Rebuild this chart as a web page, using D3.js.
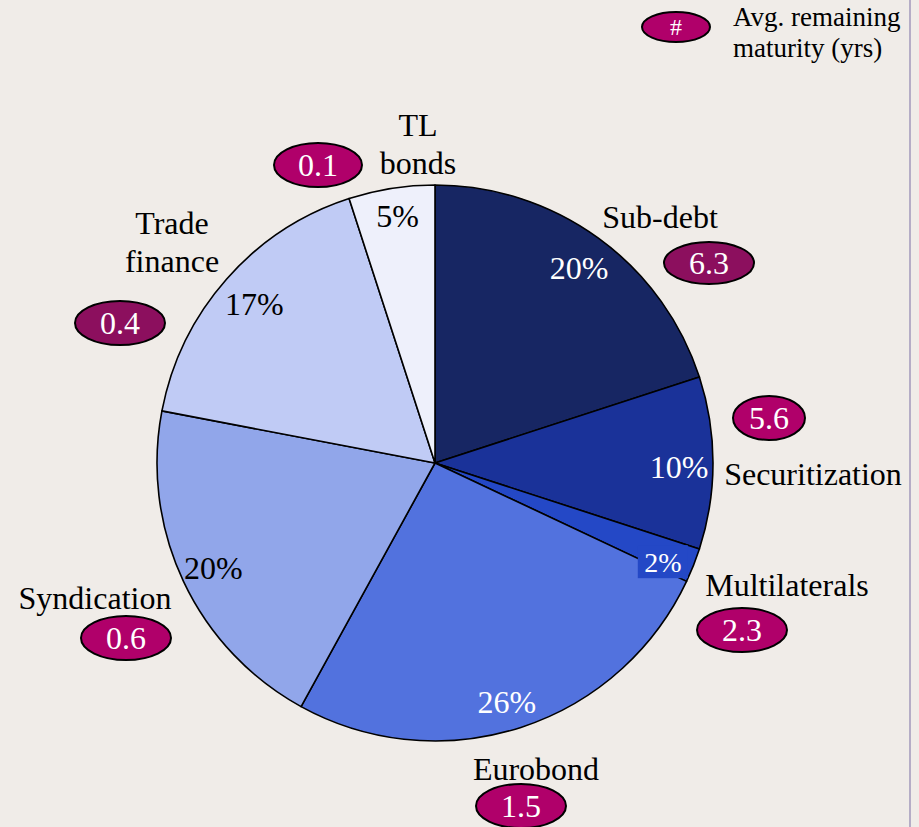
<!DOCTYPE html>
<html>
<head>
<meta charset="utf-8">
<script src="https://cdn.jsdelivr.net/npm/d3@7"></script>
<style>
  html, body { margin: 0; padding: 0; background: #f0ece8; }
  svg { display: block; }
  text { font-family: "Liberation Serif", "Times New Roman", serif; }
</style>
</head>
<body>
<svg id="chart" width="919" height="827"></svg>
<script>
// Funding mix: share of each source (%) and average remaining maturity (years)
const categories = ["Sub-debt", "Securitization", "Multilaterals", "Eurobond", "Syndication", "Trade finance", "TL bonds"];
const shares     = [20, 10, 2, 26, 20, 17, 5];
const maturities = [6.3, 5.6, 2.3, 1.5, 0.6, 0.4, 0.1];
const legendLabel = ["Avg. remaining", "maturity (yrs)"];

// Styling per slice
const sliceColors = ["#172663", "#1a3299", "#2448c6", "#5272de", "#91a6ea", "#c0cbf5", "#eef0fb"];
const pctColors   = ["#fff", "#fff", "#fff", "#fff", "#000", "#000", "#000"];
const bubbleColors = ["#8c0f5e", "#b0006a", "#b0006a", "#b0006a", "#b0006a", "#8c0f5e", "#b0006a"];

// Nudges for the percentage labels relative to their slice centroid
const pctNudge = [[0, 3], [-1, 4], [0, 9], [-4, 6], [0, 0], [3, 3], [1, -5]];

// Placement of category names (lines) and maturity bubbles
const nameLayout = [
  { x: 660, y: 217, lines: ["Sub-debt"] },
  { x: 813, y: 474, lines: ["Securitization"] },
  { x: 787, y: 585, lines: ["Multilaterals"] },
  { x: 536, y: 769, lines: ["Eurobond"] },
  { x: 95,  y: 598, lines: ["Syndication"] },
  { x: 172, y: 223, lines: ["Trade", "finance"] },
  { x: 418, y: 125, lines: ["TL", "bonds"] }
];
const bubbleLayout = [
  { x: 709, y: 263, rx: 45, ry: 21 },
  { x: 769, y: 418, rx: 36, ry: 22 },
  { x: 742, y: 630, rx: 45, ry: 22 },
  { x: 521, y: 806, rx: 45, ry: 22 },
  { x: 126, y: 638, rx: 45, ry: 22 },
  { x: 120, y: 323, rx: 45, ry: 22 },
  { x: 318, y: 165, rx: 44, ry: 22 }
];

const svg = d3.select("#chart");
const W = 919, H = 827;
const FS = 32;

svg.append("rect").attr("width", W).attr("height", H).attr("fill", "#f0ece8");
// frame rule on the right
svg.append("rect").attr("x", 909).attr("y", 0).attr("width", 2).attr("height", H).attr("fill", "#b5adc6");

const cx = 435, cy = 463, R = 278;
const g = svg.append("g").attr("transform", `translate(${cx},${cy})`);

const data = categories.map((c, i) => ({ name: c, share: shares[i], mat: maturities[i], i }));
const pie = d3.pie().value(d => d.share).sort(null);
const arcs = pie(data);
const arc = d3.arc().innerRadius(0).outerRadius(R);
const labelArc = d3.arc().innerRadius(245).outerRadius(245);

g.selectAll("path.slice").data(arcs).join("path")
  .attr("class", "slice")
  .attr("d", arc)
  .attr("fill", d => sliceColors[d.data.i])
  .attr("stroke", "#000")
  .attr("stroke-width", 1.6)
  .attr("stroke-linejoin", "round");

// percentage labels inside slices
const pct = g.selectAll("g.pct").data(arcs).join("g")
  .attr("class", "pct")
  .attr("transform", d => {
    const [x, y] = labelArc.centroid(d);
    const [nx, ny] = pctNudge[d.data.i];
    return `translate(${x + nx},${y + ny})`;
  });

pct.filter(d => d.data.name === "Multilaterals")
  .append("rect")
  .attr("x", -25).attr("y", -17).attr("width", 50).attr("height", 33)
  .attr("fill", sliceColors[2]);

pct.append("text")
  .attr("text-anchor", "middle")
  .attr("dy", "0.35em")
  .attr("font-size", d => d.data.name === "Multilaterals" ? 28 : FS)
  .attr("fill", d => pctColors[d.data.i])
  .text(d => d.data.share + "%");

// category names
data.forEach((d, i) => {
  const L = nameLayout[i];
  const t = svg.append("text")
    .attr("x", L.x).attr("y", L.y)
    .attr("text-anchor", "middle")
    .attr("font-size", FS)
    .attr("fill", "#000");
  L.lines.forEach((ln, k) => {
    t.append("tspan").attr("x", L.x).attr("dy", k === 0 ? "0.35em" : 38).text(ln);
  });
});

// maturity bubbles
const fmt = d3.format(".1f");
data.forEach((d, i) => {
  const B = bubbleLayout[i];
  svg.append("ellipse")
    .attr("cx", B.x).attr("cy", B.y).attr("rx", B.rx).attr("ry", B.ry)
    .attr("fill", bubbleColors[i]).attr("stroke", "#000").attr("stroke-width", 2);
  svg.append("text")
    .attr("x", B.x).attr("y", B.y).attr("dy", "0.35em")
    .attr("text-anchor", "middle").attr("font-size", FS).attr("fill", "#fff")
    .text(fmt(d.mat));
});

// legend
svg.append("ellipse").attr("cx", 676).attr("cy", 27).attr("rx", 34).attr("ry", 15)
  .attr("fill", "#b0006a").attr("stroke", "#000").attr("stroke-width", 2);
svg.append("text").attr("x", 676).attr("y", 27).attr("dy", "0.35em")
  .attr("text-anchor", "middle").attr("font-size", 24).attr("fill", "#fff").text("#");
const lt = svg.append("text").attr("x", 733).attr("y", 17).attr("font-size", 27).attr("fill", "#000");
legendLabel.forEach((ln, k) => {
  lt.append("tspan").attr("x", 733).attr("dy", k === 0 ? "0.35em" : 31).text(ln);
});
</script>
</body>
</html>
